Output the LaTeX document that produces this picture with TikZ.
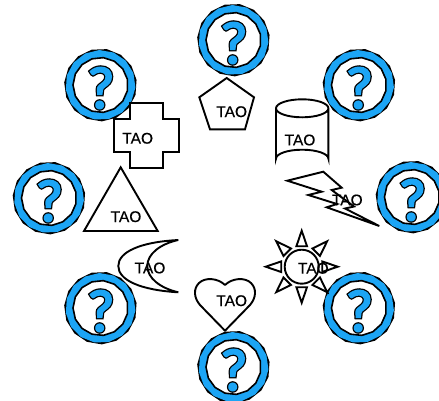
\documentclass[tikz,border=0pt]{standalone}
\usepackage{fontspec}
\setmainfont{Liberation Sans}[FakeBold=0.4]
\newfontfamily\qfont[FakeBold=3.5]{Lato}
\newfontfamily\qfontb[FakeBold=8]{Lato}
\definecolor{ringblue}{RGB}{28,165,245}
\tikzset{
  outl/.style={draw=black,line width=1.9pt,line join=miter},
  tao/.style={inner sep=0pt,font=\fontsize{15.5}{15.5}\selectfont,text=black},
}
\newcommand{\badge}[3]{%
  \begin{scope}[shift={(#1,#2)}]
    \fill[black,rotate=8] (0:36.4) \foreach \a in {24,48,...,336}{ -- (\a:36.4)} -- cycle;
    \fill[ringblue,rotate=-4] (0:35) \foreach \a in {24,48,...,336}{ -- (\a:35)} -- cycle;
    \filldraw[fill=white,draw=black,line width=1.6pt,rotate=12] (0:27.5) \foreach \a in {24,48,...,336}{ -- (\a:27.5)} -- cycle;
    \node[inner sep=0pt,text=black,font=\qfontb\fontsize{56}{56}\selectfont] (#3b) at (0.5,3) {?};
    \node[inner sep=0pt,text=ringblue,font=\qfont\fontsize{56}{56}\selectfont] (#3) at (0.5,3) {?};
  \end{scope}}
\begin{document}
\begin{tikzpicture}[x=1pt,y=-1pt]
\useasboundingbox (0,0) rectangle (439,400);
\fill[white] (0,0) rectangle (439,400);
\badge{233.5}{40}{qa}
\badge{100.5}{85}{qb}
\badge{49}{198}{qc}
\badge{359}{85}{qd}
\badge{412}{197}{qe}
\badge{359}{308}{qf}
\badge{100.5}{308}{qg}
\badge{233.5}{367}{qh}
% pentagon
\draw[outl] (226.7,78) -- (254,97.3) -- (245,129.3) -- (210,129.3) -- (199.3,97.3) -- cycle;
\node[tao] (t1) at (231.7,111.7) {TAO};
% cylinder
\draw[outl] (276,108.3) arc[start angle=180,end angle=540,x radius=26.2,y radius=9]
  (276,108.3) -- (276,158.7) arc[start angle=180,end angle=360,x radius=26.2,y radius=9] -- (328.4,108.3);
\node[tao] (t2) at (300,140) {TAO};
% lightning
\draw[outl] (287.3,180.7) -- (323.3,171.7) -- (341.7,187.7) -- (331.7,190) -- (354,206.5) -- (345,208.5) -- (379.3,226) -- (326.7,207.3) -- (337,204) -- (308.3,195) -- (321.7,191.7) -- cycle;
\node[tao] (t3) at (347.3,200) {TAO};
% sun
\draw[outl] (301.7,266.7) circle[radius=17];
\foreach \a in {0,45,...,315}{
  \draw[outl,shift={(301.7,266.7)},rotate=\a] (36,0) -- (20.5,5.3) -- (20.5,-5.3) -- cycle;}
\node[tao] (t4) at (313.3,268.3) {TAO};
% crescent
\draw[outl] (178.3,240) .. controls (140,242) and (118.3,252) .. (118.3,266)
  .. controls (118.3,280) and (140,290) .. (178.3,292.3)
  .. controls (160,288) and (147.3,278) .. (147.3,266)
  .. controls (147.3,254) and (160,244) .. (178.3,240) -- cycle;
\node[tao] (t5) at (150,268) {TAO};
% heart
\draw[outl,line join=round] (225,285) .. controls (218,278) and (205,277) .. (199,283)
  .. controls (193,289) and (194,298) .. (200,305) -- (225,330.7) -- (250,305)
  .. controls (256,298) and (257,289) .. (251,283) .. controls (245,277) and (232,278) .. (225,285) -- cycle;
\node[tao] (t6) at (231.7,300.7) {TAO};
% cross
\draw[outl] (130,103.3) -- (163.3,103.3) -- (163.3,119.3) -- (179,119.3) -- (179,151.7) -- (163.3,151.7) -- (163.3,168.3) -- (130,168.3) -- (130,151.7) -- (114,151.7) -- (114,119.3) -- (130,119.3) -- cycle;
\node[tao] (t7) at (137.7,138.3) {TAO};
% triangle
\draw[outl] (120.7,167.3) -- (157.7,231) -- (84,231) -- cycle;
\node[tao] (t8) at (126,216.7) {TAO};
\end{tikzpicture}
\end{document}
